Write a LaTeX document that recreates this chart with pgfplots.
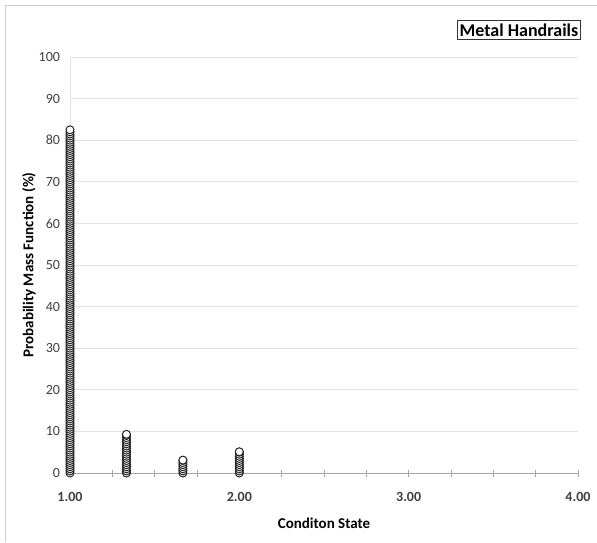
\documentclass[border=0pt]{standalone}
\usepackage{pgfplots}
\pgfplotsset{compat=1.18}
\usepackage{fontspec}
\setmainfont{Carlito}
\definecolor{gridc}{HTML}{E3E3E3}
\definecolor{axc}{HTML}{A6A6A6}
\definecolor{txt}{HTML}{404040}
\begin{document}
\begin{tikzpicture}
\path[use as bounding box] (0pt,0pt) rectangle (597pt,542pt);
\draw[gridc!80!gray, line width=1pt] (5pt,0pt) -- (5pt,536pt) -- (597pt,536pt);
\begin{axis}[
  at={(70pt,69pt)}, anchor=south west,
  scale only axis, width=508pt, height=416pt,
  xmin=1, xmax=4, ymin=0, ymax=100,
  axis x line=bottom, axis y line=left,
  axis line style={-},
  x axis line style={axc, line width=0.9pt},
  y axis line style={gridc, line width=0.9pt},
  xtick={1,2,3,4},
  minor xtick={1.25,1.5,1.75,2.25,2.5,2.75,3.25,3.5,3.75},
  xtick style={axc, line width=0.8pt},
  minor tick length=7pt, major tick length=7pt,
  tick align=center,
  ytick={0,10,...,100},
  ytick style={draw=none},
  ymajorgrids, grid style={gridc, line width=0.9pt},
  xticklabel style={font=\fontsize{14}{16}\selectfont\bfseries, text=txt, yshift=-12pt},
  yticklabel style={font=\fontsize{14}{16}\selectfont, text=txt, xshift=-3pt},
  x tick label style={/pgf/number format/.cd, fixed, fixed zerofill, precision=2, assume math mode=true},
  y tick label style={/pgf/number format/assume math mode=true},
  xlabel={\textbf{Conditon State}},
  ylabel={\textbf{Probability Mass Function (\%)}},
  xlabel style={font=\fontsize{15}{17}\selectfont, text=black, yshift=-10pt},
  ylabel style={font=\fontsize{15}{17}\selectfont, text=black, yshift=-4pt},
  clip=false,
]
\addplot[only marks, mark=*, mark size=4pt, mark options={fill=white, draw=black!85, line width=1pt}] coordinates {
(1,0)(1,0.5)(1,1)(1,1.5)(1,2)(1,2.5)(1,3)(1,3.5)(1,4)(1,4.5)
(1,5)(1,5.5)(1,6)(1,6.5)(1,7)(1,7.5)(1,8)(1,8.5)(1,9)(1,9.5)
(1,10)(1,10.5)(1,11)(1,11.5)(1,12)(1,12.5)(1,13)(1,13.5)(1,14)(1,14.5)
(1,15)(1,15.5)(1,16)(1,16.5)(1,17)(1,17.5)(1,18)(1,18.5)(1,19)(1,19.5)
(1,20)(1,20.5)(1,21)(1,21.5)(1,22)(1,22.5)(1,23)(1,23.5)(1,24)(1,24.5)
(1,25)(1,25.5)(1,26)(1,26.5)(1,27)(1,27.5)(1,28)(1,28.5)(1,29)(1,29.5)
(1,30)(1,30.5)(1,31)(1,31.5)(1,32)(1,32.5)(1,33)(1,33.5)(1,34)(1,34.5)
(1,35)(1,35.5)(1,36)(1,36.5)(1,37)(1,37.5)(1,38)(1,38.5)(1,39)(1,39.5)
(1,40)(1,40.5)(1,41)(1,41.5)(1,42)(1,42.5)(1,43)(1,43.5)(1,44)(1,44.5)
(1,45)(1,45.5)(1,46)(1,46.5)(1,47)(1,47.5)(1,48)(1,48.5)(1,49)(1,49.5)
(1,50)(1,50.5)(1,51)(1,51.5)(1,52)(1,52.5)(1,53)(1,53.5)(1,54)(1,54.5)
(1,55)(1,55.5)(1,56)(1,56.5)(1,57)(1,57.5)(1,58)(1,58.5)(1,59)(1,59.5)
(1,60)(1,60.5)(1,61)(1,61.5)(1,62)(1,62.5)(1,63)(1,63.5)(1,64)(1,64.5)
(1,65)(1,65.5)(1,66)(1,66.5)(1,67)(1,67.5)(1,68)(1,68.5)(1,69)(1,69.5)
(1,70)(1,70.5)(1,71)(1,71.5)(1,72)(1,72.5)(1,73)(1,73.5)(1,74)(1,74.5)
(1,75)(1,75.5)(1,76)(1,76.5)(1,77)(1,77.5)(1,78)(1,78.5)(1,79)(1,79.5)
(1,80)(1,80.5)(1,81)(1,81.5)(1,82)(1,82.5)
(1.3333,0)(1.3333,0.5)(1.3333,1)(1.3333,1.5)(1.3333,2)(1.3333,2.5)(1.3333,3)(1.3333,3.5)(1.3333,4)(1.3333,4.5)
(1.3333,5)(1.3333,5.5)(1.3333,6)(1.3333,6.5)(1.3333,7)(1.3333,7.5)(1.3333,8)(1.3333,8.5)(1.3333,9)(1.3333,9.3)
(1.6667,0)(1.6667,0.5)(1.6667,1)(1.6667,1.5)(1.6667,2)(1.6667,2.5)(1.6667,3)(1.6667,3.1)
(2,0)(2,0.5)(2,1)(2,1.5)(2,2)(2,2.5)(2,3)(2,3.5)(2,4)(2,4.5)(2,5)(2,5.1)
};
\end{axis}
\node[draw=black!80, line width=0.8pt, fill=white, inner xsep=2pt, inner ysep=3pt, font=\fontsize{18}{20}\selectfont\bfseries] at (519pt,512pt) {Metal Handrails};
\end{tikzpicture}
\end{document}
